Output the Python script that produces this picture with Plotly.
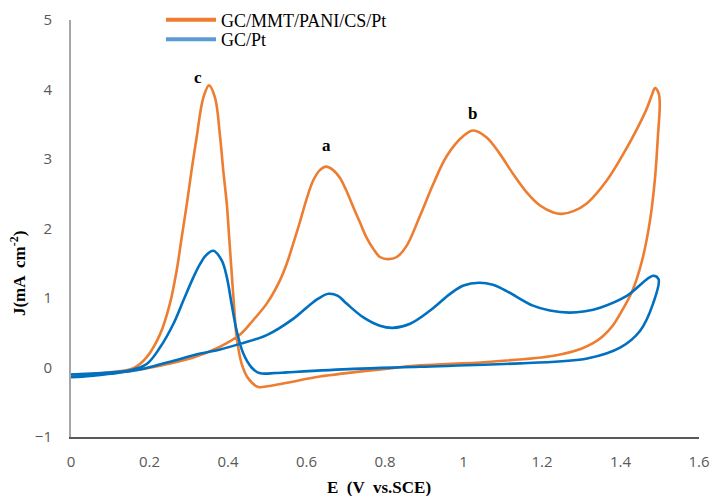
import plotly.graph_objects as go

# GC/MMT/PANI/CS/Pt (closed CV loop, in scan order)
pani_E = [0.00, 0.05, 0.10, 0.15, 0.23, 0.31, 0.38, 0.43, 0.464, 0.50, 0.532, 0.55, 0.566,
          0.583, 0.60, 0.617, 0.634, 0.65, 0.668, 0.685, 0.702, 0.719, 0.736, 0.753, 0.77,
          0.787, 0.808, 0.83, 0.855, 0.889, 0.923, 0.957, 0.9995, 1.025, 1.059, 1.093,
          1.127, 1.161, 1.195, 1.229, 1.25, 1.28, 1.314, 1.365, 1.416, 1.465, 1.48, 1.488,
          1.497, 1.50, 1.495, 1.488, 1.475, 1.455, 1.43, 1.40, 1.38, 1.355, 1.33, 1.30,
          1.23, 1.06, 0.89, 0.80, 0.634, 0.55, 0.50, 0.477, 0.452, 0.435, 0.422, 0.415,
          0.409, 0.403, 0.397, 0.388, 0.38, 0.367, 0.3516, 0.337, 0.32, 0.307, 0.295,
          0.282, 0.269, 0.252, 0.227, 0.193, 0.159, 0.10, 0.05, 0.00]
pani_J = [-0.12, -0.10, -0.08, -0.05, 0.03, 0.14, 0.30, 0.47, 0.68, 0.93, 1.25, 1.50, 1.78,
          2.09, 2.42, 2.69, 2.84, 2.89, 2.84, 2.73, 2.54, 2.31, 2.09, 1.87, 1.71,
          1.59, 1.56, 1.59, 1.75, 2.18, 2.64, 3.04, 3.33, 3.41, 3.31, 3.07,
          2.78, 2.52, 2.33, 2.23, 2.21, 2.25, 2.36, 2.69, 3.16, 3.70, 3.92, 4.02,
          3.95, 3.80, 3.30, 2.73, 2.11, 1.54, 1.10, 0.78, 0.60, 0.45, 0.35, 0.27,
          0.17, 0.08, 0.03, -0.02, -0.13, -0.22, -0.27, -0.28, -0.16, 0.05, 0.44, 0.92,
          1.39, 1.87, 2.35, 2.83, 3.31, 3.88, 4.06, 3.88, 3.31, 2.83, 2.35,
          1.87, 1.39, 0.92, 0.48, 0.15, -0.01, -0.07, -0.09, -0.10]

# GC/Pt (closed CV loop, in scan order)
pt_E = [0.00, 0.05, 0.10, 0.176, 0.25, 0.33, 0.38, 0.43, 0.50, 0.566, 0.60, 0.63, 0.656,
        0.68, 0.702, 0.745, 0.787, 0.82, 0.864, 0.915, 0.966, 1.00, 1.04, 1.075, 1.11,
        1.177, 1.22, 1.27, 1.31, 1.348, 1.416, 1.483, 1.497, 1.483, 1.45, 1.40, 1.315,
        1.144, 0.89, 0.72, 0.55, 0.52, 0.48, 0.46, 0.439, 0.422, 0.409, 0.397, 0.384,
        0.3626, 0.345, 0.329, 0.312, 0.286, 0.261, 0.227, 0.193, 0.15, 0.08, 0.00]
pt_J = [-0.14, -0.12, -0.09, -0.03, 0.08, 0.20, 0.26, 0.34, 0.47, 0.70, 0.86, 0.99, 1.06,
        1.03, 0.92, 0.72, 0.60, 0.57, 0.63, 0.82, 1.06, 1.18, 1.22, 1.19, 1.10,
        0.89, 0.82, 0.79, 0.81, 0.86, 1.03, 1.32, 1.27, 0.92, 0.53, 0.29, 0.13,
        0.06, 0.01, -0.02, -0.07, -0.08, -0.08, 0.00, 0.20, 0.53, 0.92, 1.30, 1.54,
        1.68, 1.62, 1.49, 1.30, 0.96, 0.63, 0.29, 0.05, -0.04, -0.08, -0.10]

series_names = ["GC/MMT/PANI/CS/Pt", "GC/Pt"]
x_ticks = [0, 0.2, 0.4, 0.6, 0.8, 1, 1.2, 1.4, 1.6]
y_ticks = [-1, 0, 1, 2, 3, 4, 5]
peak_labels = ["c", "a", "b"]
peak_E = [0.324, 0.652, 1.024]
peak_J = [4.17, 3.19, 3.66]

ORANGE = "#ED7D31"
BLUE = "#0070C0"
LEG_BLUE = "#5B9BD5"

fig = go.Figure()
fig.add_trace(go.Scatter(x=pani_E, y=pani_J, mode="lines",
                         line=dict(color=ORANGE, width=2.6, shape="spline", smoothing=1.0),
                         showlegend=False, hoverinfo="skip"))
fig.add_trace(go.Scatter(x=pt_E, y=pt_J, mode="lines",
                         line=dict(color=BLUE, width=2.6, shape="spline", smoothing=1.0),
                         showlegend=False, hoverinfo="skip"))
# legend entries
fig.add_trace(go.Scatter(x=[None], y=[None], mode="lines", name=series_names[0],
                         line=dict(color=ORANGE, width=4), legend="legend"))
fig.add_trace(go.Scatter(x=[None], y=[None], mode="lines", name=series_names[1],
                         line=dict(color=LEG_BLUE, width=4), legend="legend2"))

serif = "Liberation Serif, Times New Roman, serif"
for t, xe, yj in zip(peak_labels, peak_E, peak_J):
    fig.add_annotation(x=xe, y=yj, text="<b>%s</b>" % t, showarrow=False,
                       font=dict(family=serif, size=17, color="black"))

fig.add_annotation(xref="paper", yref="paper", x=-0.0844, y=0.393, xanchor="center", yanchor="middle",
                   text="<b>J(mA  cm<sup>-2</sup>)</b>",
                   textangle=-90, showarrow=False, font=dict(family=serif, size=17, color="black"))
fig.add_annotation(xref="paper", yref="paper", x=0.49, y=-0.12, xanchor="center", yanchor="middle",
                   text="<b>E  (V  vs.SCE)</b>",
                   showarrow=False, font=dict(family=serif, size=17, color="black"))

legfont = dict(family=serif, size=18, color="black")
fig.update_layout(
    width=711, height=496,
    margin=dict(l=71, r=12, t=20, b=59, autoexpand=False),
    paper_bgcolor="white", plot_bgcolor="white",
    legend=dict(xref="container", yref="container", x=0.2264, y=0.9597,
                xanchor="left", yanchor="middle", font=legfont,
                bgcolor="rgba(0,0,0,0)", itemwidth=50),
    legend2=dict(xref="container", yref="container", x=0.2264, y=0.9204,
                 xanchor="left", yanchor="middle", font=legfont,
                 bgcolor="rgba(0,0,0,0)", itemwidth=50),
    xaxis=dict(range=[0, 1.6], tickvals=x_ticks, ticktext=[("%g" % v) for v in x_ticks],
               showgrid=False, zeroline=False, showline=True, linecolor="#595959", linewidth=2,
               ticks="outside", ticklen=10, tickcolor="rgba(0,0,0,0)",
               tickfont=dict(family="Open Sans, sans-serif", size=15, color="#595959")),
    yaxis=dict(range=[-1, 5], tickvals=y_ticks, showgrid=False, zeroline=False,
               showline=True, linecolor="#A6A6A6", linewidth=2,
               ticks="outside", ticklen=14, tickcolor="rgba(0,0,0,0)",
               tickfont=dict(family="Open Sans, sans-serif", size=15, color="#595959")),
)

fig.write_html("out.html")
